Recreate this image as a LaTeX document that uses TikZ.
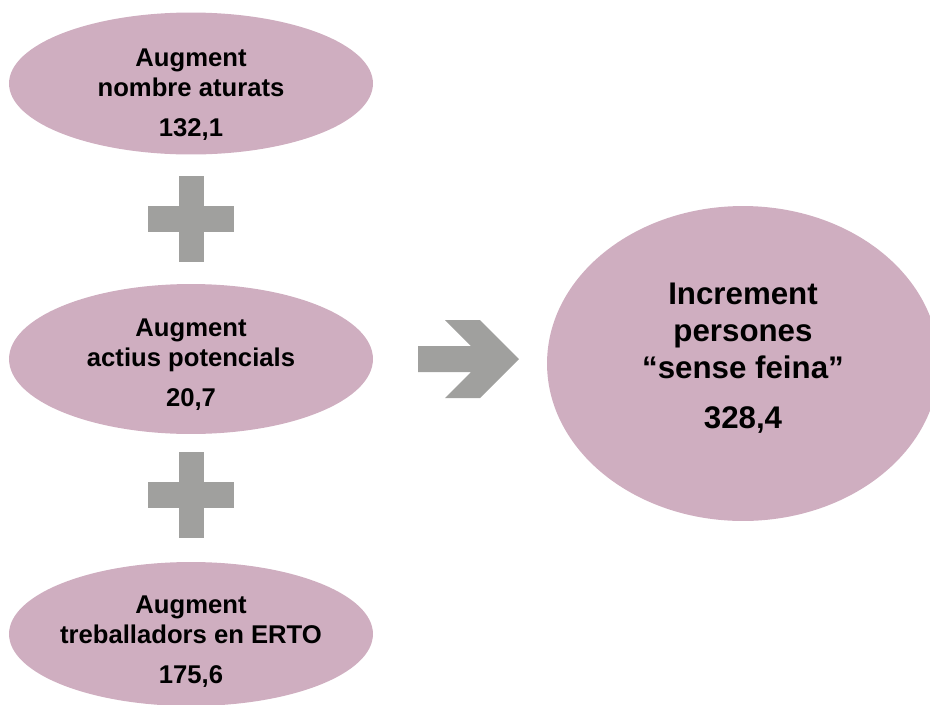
\documentclass[tikz,border=0pt]{standalone}
\usepackage{fontspec}
\setmainfont{Liberation Sans}
\usepackage{xcolor}
\usetikzlibrary{shapes.geometric}

\definecolor{bubblepink}{RGB}{207,174,192}
\definecolor{signgray}{RGB}{160,160,158}

\tikzset{
	bubble/.style={ellipse, fill=bubblepink, draw=none, inner sep=0pt},
	smalltxt/.style={align=center, inner sep=0pt, font=\fontsize{14.6}{17}\selectfont\bfseries},
	bigtxt/.style={align=center, inner sep=0pt, font=\fontsize{17.8}{21.3}\selectfont\bfseries},
	sign/.style={fill=signgray, draw=none}
}

\begin{document}
\begin{tikzpicture}[x=0.02cm, y=-0.02cm]
					\def\bw{7.28cm};
					\def\arm{43};
					\def\bar{12.5};

					\useasboundingbox (0,0) rectangle (930,704);

					\begin{scope}
						\node[bubble, minimum width=\bw, minimum height=2.84cm] (aturats) at (191,83.5) {};
						\node[bubble, minimum width=\bw, minimum height=3.0cm] (actius) at (191,359) {};
						\node[bubble, minimum width=\bw, minimum height=2.88cm] (erto) at (191,634) {};
						\node[bubble, minimum width=7.84cm, minimum height=6.3cm] (feina) at (743,363.5) {};
					\end{scope}

					\begin{scope}
						\node[smalltxt] (aturatsTxt) at (191,95) {Augment\\nombre aturats\\[5.7pt]132,1};
						\node[smalltxt] (actiusTxt) at (191,365) {Augment\\actius potencials\\[5.7pt]20,7};
						\node[smalltxt] (ertoTxt) at (191,642) {Augment\\treballadors en ERTO\\[5.7pt]175,6};
						\node[bigtxt] (feinaTxt) at (743,358) {Increment\\persones\\“sense feina”\\[7pt]328,4};
					\end{scope}

					% plus signs
					\foreach \y in {218.5,495} {
						\fill[sign] (191-\arm,\y-13) rectangle (191+\arm,\y+13);
						\fill[sign] (191-\bar,\y-\arm) rectangle (191+\bar,\y+\arm);
					}

					% block arrow
					\begin{scope}[shift={(418,359)}]
						\fill[sign] (0,-13) -- (53,-13) -- (27,-39) -- (62,-39) -- (101,0)
							-- (62,39) -- (27,39) -- (53,13) -- (0,13) -- cycle;
					\end{scope}
				\end{tikzpicture}
\end{document}
